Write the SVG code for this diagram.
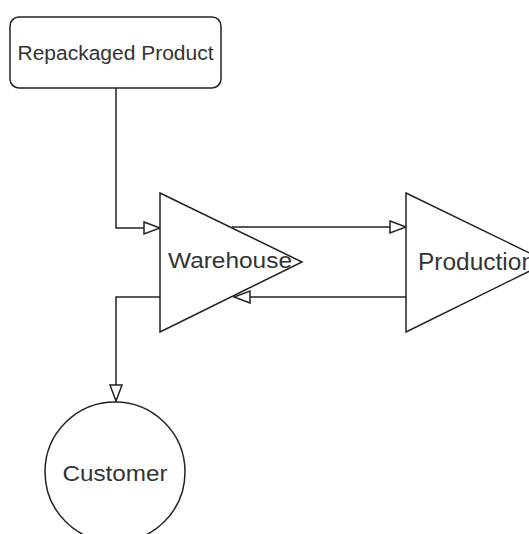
<svg xmlns="http://www.w3.org/2000/svg" width="529" height="534" viewBox="0 0 529 534">
  <style>
    .shape { fill: #ffffff; stroke: #222222; stroke-width: 1.5; }
    .label { font-family: "Liberation Sans", Arial, sans-serif; fill: #333333; text-anchor: middle; }
    .edge { fill: none; stroke: #222222; stroke-width: 1.5; }
  </style>
  <defs>
    <marker id="open" markerUnits="userSpaceOnUse" markerWidth="20" markerHeight="16" viewBox="0 0 20 16" refX="18" refY="8" orient="auto">
      <path d="M2,2 L18,8 L2,14 Z" fill="#ffffff" stroke="#222222" stroke-width="1.5"/>
    </marker>
  </defs>
  <rect width="529" height="534" fill="#ffffff"/>

  <g id="connectors">
    <path class="edge" d="M116,88 V228 H160" marker-end="url(#open)"/>
    <path class="edge" d="M232,227 H406" marker-end="url(#open)"/>
    <path class="edge" d="M406,297 H234" marker-end="url(#open)"/>
    <path class="edge" d="M160,297 H116 V401" marker-end="url(#open)"/>
  </g>

  <g id="repackaged-product">
    <rect class="shape" x="10" y="17" width="211" height="71" rx="9" ry="9"/>
    <text class="label" x="115.5" y="60" font-size="20" textLength="196" lengthAdjust="spacingAndGlyphs">Repackaged Product</text>
  </g>

  <g id="warehouse">
    <path class="shape" d="M160,193 L302,262 L160,332 Z"/>
    <text class="label" x="230" y="268" font-size="22" textLength="124" lengthAdjust="spacingAndGlyphs">Warehouse</text>
  </g>

  <g id="production">
    <path class="shape" d="M406,193 L548,262 L406,332 Z"/>
    <text class="label" x="476.5" y="270" font-size="23" textLength="117" lengthAdjust="spacingAndGlyphs">Production</text>
  </g>

  <g id="customer">
    <circle class="shape" cx="115" cy="472" r="70"/>
    <text class="label" x="115" y="481" font-size="22" textLength="105" lengthAdjust="spacingAndGlyphs">Customer</text>
  </g>
</svg>
